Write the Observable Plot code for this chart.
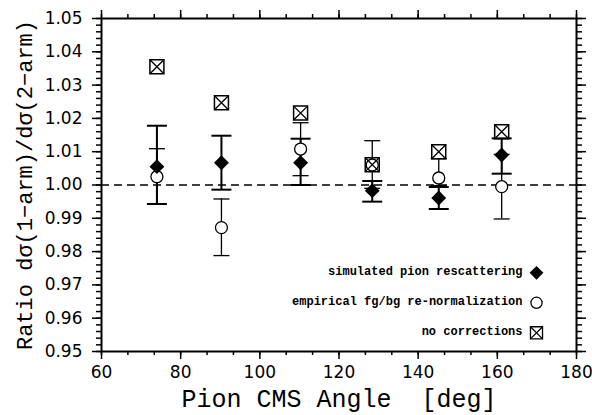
<!DOCTYPE html>
<html>
<head>
<meta charset="utf-8">
<script src="https://cdn.jsdelivr.net/npm/d3@7"></script>
<script src="https://cdn.jsdelivr.net/npm/@observablehq/plot@0.6"></script>
<style>
  html, body { margin: 0; padding: 0; background: #fff; }
</style>
</head>
<body>
<div id="chart"></div>
<script>
// ---- data ----
const angles = [74.0, 90.3, 110.3, 128.4, 145.2, 161.1];

const pionValues = [1.0055, 1.0067, 1.0067, 0.9983, 0.9961, 1.0090];
const pionLow    = [0.9943, 0.9986, 1.0000, 0.9950, 0.9928, 1.0034];
const pionHigh   = [1.0178, 1.0148, 1.0139, 1.0012, 0.9994, 1.0140];

const renormValues = [1.0025, 0.9872, 1.0108, 1.0060, 1.0021, 0.9995];
const renormLow    = [0.9943, 0.9788, 1.0028, 0.9990, 0.9998, 0.9898];
const renormHigh   = [1.0109, 0.9958, 1.0187, 1.0133, 1.0079, 1.0092];

const rawValues = [1.0355, 1.0247, 1.0216, 1.0061, 1.0100, 1.0160];

const legendLabels = [
  "simulated pion rescattering",
  "empirical fg/bg re-normalization",
  "no corrections"
];

const xMajorTicks = [60, 80, 100, 120, 140, 160, 180];
const yMajorTicks = [0.95, 0.96, 0.97, 0.98, 0.99, 1.00, 1.01, 1.02, 1.03, 1.04, 1.05];
const xTitle = "Pion CMS Angle  [deg]";
const yTitle = "Ratio d\u03c3(1\u2212arm)/d\u03c3(2\u2212arm)";

// ---- derived tables ----
const pion = angles.map((x, i) => ({x, y: pionValues[i], lo: pionLow[i], hi: pionHigh[i]}));
const renorm = angles.map((x, i) => ({x, y: renormValues[i], lo: renormLow[i], hi: renormHigh[i]}));
const raw = angles.map((x, i) => ({x, y: rawValues[i]}));

const xMinorTicks = d3.range(0, 19).map(i => 60 + i * 20 / 3);
const yMinorTicks = d3.range(0, 51).map(i => 0.95 + i * 0.002);

// horizontal error-bar cap symbol
const capSymbol = {
  draw(context, size) {
    const w = Math.sqrt(size / Math.PI);
    context.moveTo(-w, 0);
    context.lineTo(w, 0);
  }
};

function errorBars(data, capR, sw) {
  return [
    Plot.ruleX(data, {x: "x", y1: "lo", y2: "hi", stroke: "black", strokeWidth: sw}),
    Plot.dot(data, {x: "x", y: "lo", symbol: capSymbol, r: capR, stroke: "black", strokeWidth: sw, fill: "none"}),
    Plot.dot(data, {x: "x", y: "hi", symbol: capSymbol, r: capR, stroke: "black", strokeWidth: sw, fill: "none"})
  ];
}

// legend entries (text + marker), anchored to the bottom-right of the frame
const legendMarks = [];
legendLabels.forEach((label, i) => {
  const dy = -18.7 - (legendLabels.length - 1 - i) * 30;
  legendMarks.push(Plot.text([label], {
    frameAnchor: "bottom-right", dx: -54, dy: dy + 2.5, text: d => d,
    textAnchor: "end", fontFamily: "Liberation Mono", fontWeight: "bold", fontSize: 12, fill: "black"
  }));
  if (i === 0) {
    legendMarks.push(Plot.dot([label], {frameAnchor: "bottom-right", dx: -40, dy, symbol: "diamond2", r: 6.2, fill: "black", stroke: "none"}));
  } else if (i === 1) {
    legendMarks.push(Plot.dot([label], {frameAnchor: "bottom-right", dx: -40, dy, symbol: "circle", r: 5.6, fill: "white", stroke: "black", strokeWidth: 1.3}));
  } else {
    legendMarks.push(Plot.dot([label], {frameAnchor: "bottom-right", dx: -40, dy, symbol: "square", r: 6.8, fill: "white", stroke: "black", strokeWidth: 1.3}));
    legendMarks.push(Plot.dot([label], {frameAnchor: "bottom-right", dx: -40, dy, symbol: "times", r: 5.6, stroke: "black", strokeWidth: 1.2}));
  }
});

const chart = Plot.plot({
  width: 592,
  height: 415,
  marginLeft: 101,
  marginRight: 16,
  marginTop: 18,
  marginBottom: 64,
  style: {background: "white", fontFamily: "DejaVu Sans", fontSize: "17px", color: "black"},
  x: {domain: [60, 180], axis: null},
  y: {domain: [0.95, 1.05], axis: null},
  marks: [
    Plot.ruleY([1.0], {stroke: "black", strokeWidth: 1.3, strokeDasharray: "8,5"}),
    ...errorBars(renorm, 8, 1.3),
    ...errorBars(pion, 10, 2),
    Plot.dot(renorm, {x: "x", y: "y", symbol: "circle", r: 6, fill: "white", stroke: "black", strokeWidth: 1.3}),
    Plot.dot(raw, {x: "x", y: "y", symbol: "square", r: 7.9, fill: "none", stroke: "black", strokeWidth: 1.5}),
    Plot.dot(raw, {x: "x", y: "y", symbol: "times", r: 6.4, stroke: "black", strokeWidth: 1.3}),
    Plot.dot(pion, {x: "x", y: "y", symbol: "diamond2", r: 6.7, fill: "black", stroke: "none"}),
    ...legendMarks,
    Plot.frame({stroke: "black", strokeWidth: 2}),
    // axes
    Plot.axisY({anchor: "left", ticks: yMajorTicks, tickSize: 9, tickPadding: 10, tickFormat: d3.format(".2f"),
      label: yTitle, labelAnchor: "center", labelOffset: 85, labelArrow: "none",
      fontSize: 17, strokeWidth: 1.5}),
    Plot.axisY({anchor: "left", ticks: yMinorTicks, tickSize: 5, tickFormat: () => "", label: null, strokeWidth: 1.5}),
    Plot.axisY({anchor: "right", ticks: yMajorTicks, tickSize: 9, tickFormat: () => "", label: null, strokeWidth: 1.5}),
    Plot.axisY({anchor: "right", ticks: yMinorTicks, tickSize: 5, tickFormat: () => "", label: null, strokeWidth: 1.5}),
    Plot.axisX({anchor: "bottom", ticks: xMajorTicks, tickSize: 8, tickPadding: 6, tickFormat: d3.format("d"), label: null, fontSize: 17, strokeWidth: 1.5}),
    Plot.axisX({anchor: "bottom", ticks: xMinorTicks, tickSize: 4, tickFormat: () => "", label: null, strokeWidth: 1.5}),
    Plot.axisX({anchor: "top", ticks: xMajorTicks, tickSize: 9, tickFormat: () => "", label: null, strokeWidth: 1.5}),
    Plot.axisX({anchor: "top", ticks: xMinorTicks, tickSize: 5, tickFormat: () => "", label: null, strokeWidth: 1.5}),
    // x title
    Plot.text([xTitle], {frameAnchor: "bottom", dy: 55, text: d => d, fontFamily: "Liberation Mono", fontSize: 25, fill: "black"})
  ]
});

// use the serif typewriter face for the y-axis title
d3.select(chart).selectAll("g[aria-label='y-axis label'] text")
  .attr("font-family", "Liberation Mono").attr("font-size", 22);

document.getElementById("chart").appendChild(chart);
</script>
</body>
</html>
